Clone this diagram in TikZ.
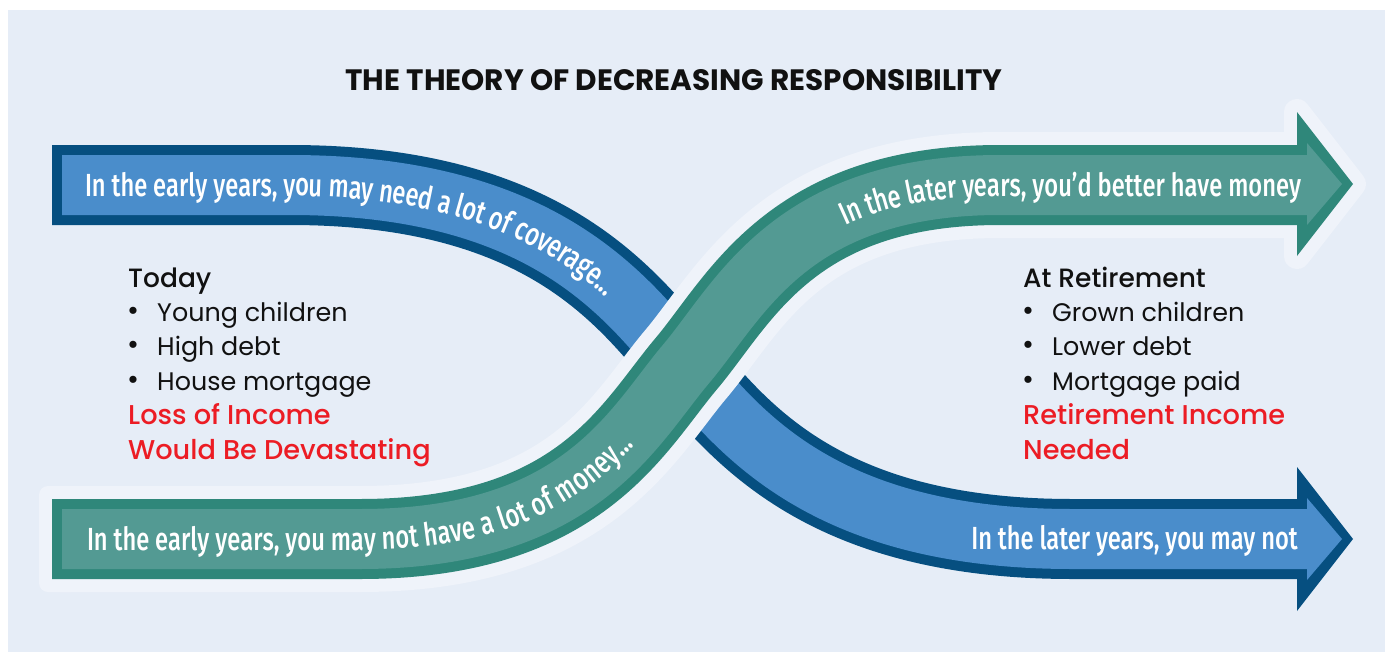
\documentclass[tikz,border=0pt]{standalone}
\usepackage{fontspec}
\setmainfont{Poppins}
\newfontfamily\medfont{Poppins Medium}
\newfontfamily\bandfont{Fira Sans Medium}[FakeStretch=0.74]
\usetikzlibrary{decorations.text}

\definecolor{panel}{HTML}{E6EDF7}
\definecolor{halo}{HTML}{EFF3FA}
\definecolor{blueedge}{HTML}{064F80}
\definecolor{bluefill}{HTML}{4A8DCB}
\definecolor{greenedge}{HTML}{2F877A}
\definecolor{greenfill}{HTML}{539A93}
\definecolor{alertred}{HTML}{EC1C24}
\definecolor{ink}{HTML}{111111}

\newcommand\bandsize{\bandfont\fontsize{32}{32}\selectfont}

\tikzset{
  bandtext/.style={font=\bandsize, text=white, inner sep=0pt},
  listtext/.style={font=\fontsize{25.4}{30}\selectfont, text=ink, inner sep=0pt, anchor=base west},
  bullettext/.style={listtext, font=\fontsize{29}{30}\selectfont, yshift=1pt},
  headtext/.style={font=\medfont\fontsize{26.5}{30}\selectfont, text=ink, inner sep=0pt, anchor=base west},
  alerttext/.style={headtext, font=\medfont\fontsize{27.2}{30}\selectfont, text=alertred},
  outerband/.style={line width=80pt},
  innerband/.style={line width=60pt},
  haloband/.style={halo, line width=106pt},
}

\begin{document}
\begin{tikzpicture}[x=1pt, y=-1pt]
\useasboundingbox (0,0) rectangle (1385,662);
\fill[white] (0,0) rectangle (1385,662);
\fill[panel] (8,10) rectangle (1385,652);

% --- path points: blue band (high to low) ---
\coordinate (b0)  at (52,185);
\coordinate (b0i) at (62,185);
\coordinate (b1)  at (290,185);
\coordinate (bc1) at (540,185);
\coordinate (bc2) at (623,293);
\coordinate (bx)  at (681,362);
\coordinate (bc3) at (739,431);
\coordinate (bc4) at (822,539);
\coordinate (b2)  at (1072,539);
\coordinate (b3)  at (1297,539);
\coordinate (b3i) at (1307,539);

% --- path points: green band (low to high) ---
\coordinate (g0h) at (60,539);
\coordinate (g0)  at (52,539);
\coordinate (g0i) at (62,539);
\coordinate (g1)  at (360,539);
\coordinate (gc1) at (580,539);
\coordinate (gc2) at (632,428);
\coordinate (gx)  at (686,364);
\coordinate (gc3) at (740,300);
\coordinate (gc4) at (790,185);
\coordinate (g2)  at (1000,185);
\coordinate (g3)  at (1297,185);
\coordinate (g3i) at (1307,185);
\coordinate (gend) at (1301,185);

% --- title ---
\node[font=\bfseries\fontsize{29.5}{34}\selectfont, text=ink, anchor=base] (title) at (674,90)
  {THE THEORY OF DECREASING RESPONSIBILITY};

% --- blue band ---
\draw[blueedge, outerband] (b0) -- (b1) .. controls (bc1) and (bc2) .. (bx)
  .. controls (bc3) and (bc4) .. (b2) -- (b3);
\fill[blueedge] (1297,467) -- (1353,539) -- (1297,611) -- cycle;
\draw[bluefill, innerband] (b0i) -- (b1) .. controls (bc1) and (bc2) .. (bx)
  .. controls (bc3) and (bc4) .. (b2) -- (b3i);
\fill[bluefill] (1307,498) -- (1342,539) -- (1307,580) -- cycle;

\path[decorate, decoration={text along path, text color=white, raise=-11pt,
    text align={left indent=33pt},
    text={|\bandsize|In the early years, you may need a lot of coverage...}}]
  (b0) -- (b1) .. controls (bc1) and (bc2) .. (bx);
\node[bandtext, anchor=base east] (bluelate) at (1298,549) {In the later years, you may not};

% --- green band with its light halo ---
\fill[halo, rounded corners=9pt] (39,486) rectangle (80,592);
\draw[haloband] (g0h) -- (g1) .. controls (gc1) and (gc2) .. (gx)
  .. controls (gc3) and (gc4) .. (g2) -- (g3);
\filldraw[halo, line width=26pt, line join=round] (1297,112) -- (1353,184) -- (1297,256) -- cycle;

\draw[greenedge, outerband] (g0) -- (g1) .. controls (gc1) and (gc2) .. (gx)
  .. controls (gc3) and (gc4) .. (g2) -- (g3);
\fill[greenedge] (1297,112) -- (1353,184) -- (1297,256) -- cycle;
\draw[greenfill, innerband] (g0i) -- (g1) .. controls (gc1) and (gc2) .. (gx)
  .. controls (gc3) and (gc4) .. (g2) -- (g3i);
\fill[greenfill] (1307,143) -- (1342,184) -- (1307,225) -- cycle;

\path[decorate, decoration={text along path, text color=white, raise=-11pt,
    text align={left indent=35pt},
    text={|\bandsize|In the early years, you may not have a lot of money...}}]
  (g0) -- (g1) .. controls (gc1) and (gc2) .. (gx);
\path[decorate, decoration={text along path, text color=white, raise=-11pt,
    text align={right, right indent=0pt},
    text={|\bandsize|In the later years, you’d better have money}}]
  (gx) .. controls (gc3) and (gc4) .. (g2) -- (gend);

% --- left list ---
\node[headtext] (today) at (128,287) {Today};
\node[bullettext] (ldot1) at (127,321) {•};
\node[listtext] (ltxt1) at (157,321) {Young children};
\node[bullettext] (ldot2) at (127,355.5) {•};
\node[listtext] (ltxt2) at (157,355.5) {High debt};
\node[bullettext] (ldot3) at (127,390) {•};
\node[listtext] (ltxt3) at (157,390) {House mortgage};
\node[alerttext] (lred1) at (128,424.5) {Loss of Income};
\node[alerttext] (lred2) at (128,459) {Would Be Devastating};

% --- right list ---
\node[headtext] (retire) at (1023,287) {At Retirement};
\node[bullettext] (rdot1) at (1022,321) {•};
\node[listtext] (rtxt1) at (1052,321) {Grown children};
\node[bullettext] (rdot2) at (1022,355.5) {•};
\node[listtext] (rtxt2) at (1052,355.5) {Lower debt};
\node[bullettext] (rdot3) at (1022,390) {•};
\node[listtext] (rtxt3) at (1052,390) {Mortgage paid};
\node[alerttext] (rred1) at (1023,424.5) {Retirement Income};
\node[alerttext] (rred2) at (1023,459) {Needed};
\end{tikzpicture}
\end{document}
